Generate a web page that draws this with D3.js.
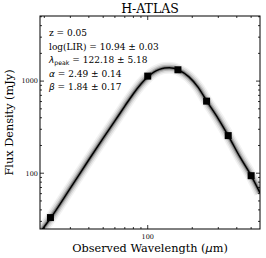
<!DOCTYPE html>
<html lang="en">
<head>
<meta charset="UTF-8">
<title>H-ATLAS SED</title>
<style>
	body { margin: 0; background: #fff; }
	text { font-family: 'DejaVu Serif', serif; fill: #000; }
	.math { font-family: 'DejaVu Sans', sans-serif; font-style: italic; }
</style>
</head>
<body>
<script src="https://d3js.org/d3.v7.min.js"></script>
<script>
	// size of the picture
	let width = 266;
	let height = 258;
	let padding = { top: 16, right: 6, bottom: 29, left: 40 };

	// photometry (observed wavelength in um, flux in mJy)
	let wavelengths = [22, 100, 160, 250, 350, 500];
	let fluxes = [33, 1133, 1327, 606, 256, 94];
	let fluxErrors = [2, 70, 60, 30, 13, 7];

	// best fit curve
	let curveWave = [19, 22, 30, 40, 50, 60, 70, 80, 90, 100, 110, 120, 130, 140, 150, 160, 190, 220, 250, 300, 350, 420, 500, 574];
	let curveFlux = [23.5, 32.4, 69, 140, 240, 370, 535, 730, 930, 1110, 1250, 1340, 1390, 1400, 1380, 1330, 1110, 850, 610, 390, 256, 150, 94, 61];

	// tick labels
	let xTickLabels = [100];
	let yTickLabels = [100, 1000];

	let fitText = [
		['z = 0.05'],
		['log(LIR) = 10.94 ± 0.03'],
		['λpeak', ' = 122.18 ± 5.18'],
		['α', ' = 2.49 ± 0.14'],
		['β', ' = 1.84 ± 0.17']
	];

	let innerW = width - padding.left - padding.right;
	let innerH = height - padding.top - padding.bottom;

	let xScale = d3.scaleLog()
			.domain([18.7, 574])
			.range([0, innerW]);
	let yScale = d3.scaleLog()
			.domain([24.8, 5090])
			.range([innerH, 0]);

	let svg = d3.select('body')
			.append('svg')
			.attr('width', width)
			.attr('height', height);

	let g = svg.append('g')
			.attr('transform', 'translate(' + padding.left + ',' + padding.top + ')');

	let clip = svg.append('defs').append('clipPath').attr('id', 'plotclip');
	clip.append('rect').attr('width', innerW).attr('height', innerH);

	let curve = curveWave.map(function(w, i){ return [w, curveFlux[i]]; });
	let linePath = d3.line()
			.x(function(d){ return xScale(d[0]); })
			.y(function(d){ return yScale(d[1]); })
			.curve(d3.curveMonotoneX);

	// grey band of the sampled fits
	let band = g.append('g').attr('clip-path', 'url(#plotclip)');
	[[12, 0.05], [9, 0.09], [6, 0.16], [3.5, 0.3]].forEach(function(s){
		band.append('path')
				.attr('d', linePath(curve))
				.attr('fill', 'none')
				.attr('stroke', '#000')
				.attr('stroke-opacity', s[1])
				.attr('stroke-width', s[0])
				.attr('stroke-linejoin', 'round');
	});
	band.append('path')
			.attr('d', linePath(curve))
			.attr('fill', 'none')
			.attr('stroke', '#000')
			.attr('stroke-width', 1.5);

	// error bars and points
	let pts = wavelengths.map(function(w, i){ return [w, fluxes[i], fluxErrors[i]]; });
	g.selectAll('.err')
			.data(pts)
			.enter()
			.append('line')
			.attr('x1', function(d){ return xScale(d[0]); })
			.attr('x2', function(d){ return xScale(d[0]); })
			.attr('y1', function(d){ return yScale(d[1] - d[2]); })
			.attr('y2', function(d){ return yScale(d[1] + d[2]); })
			.attr('stroke', '#000')
			.attr('stroke-width', 1.5);
	g.selectAll('.pt')
			.data(pts)
			.enter()
			.append('rect')
			.attr('x', function(d){ return xScale(d[0]) - 3.5; })
			.attr('y', function(d){ return yScale(d[1]) - 3.5; })
			.attr('width', 7)
			.attr('height', 7)
			.attr('fill', '#000');

	// ticks on all four sides, pointing in
	let xMajor = [100];
	let xMinor = [20, 30, 40, 50, 60, 70, 80, 90, 200, 300, 400, 500];
	let yMajor = [100, 1000];
	let yMinor = [30, 40, 50, 60, 70, 80, 90, 200, 300, 400, 500, 600, 700, 800, 900, 2000, 3000, 4000, 5000];
	function drawTicks(vals, len) {
		vals.forEach(function(v){
			let x = xScale(v);
			if (x < 0 || x > innerW) return;
			g.append('line').attr('x1', x).attr('x2', x).attr('y1', innerH).attr('y2', innerH - len).attr('stroke', '#000').attr('stroke-width', 0.8);
			g.append('line').attr('x1', x).attr('x2', x).attr('y1', 0).attr('y2', len).attr('stroke', '#000').attr('stroke-width', 0.8);
		});
	}
	function drawYTicks(vals, len) {
		vals.forEach(function(v){
			let y = yScale(v);
			if (y < 0 || y > innerH) return;
			g.append('line').attr('x1', 0).attr('x2', len).attr('y1', y).attr('y2', y).attr('stroke', '#000').attr('stroke-width', 0.8);
			g.append('line').attr('x1', innerW).attr('x2', innerW - len).attr('y1', y).attr('y2', y).attr('stroke', '#000').attr('stroke-width', 0.8);
		});
	}
	drawTicks(xMajor, 4);
	drawTicks(xMinor, 2);
	drawYTicks(yMajor, 4);
	drawYTicks(yMinor, 2);

	g.append('rect')
			.attr('width', innerW)
			.attr('height', innerH)
			.attr('fill', 'none')
			.attr('stroke', '#000')
			.attr('stroke-width', 1);

	g.selectAll('.xl')
			.data(xTickLabels)
			.enter()
			.append('text')
			.attr('x', function(d){ return xScale(d); })
			.attr('y', innerH + 10)
			.attr('text-anchor', 'middle')
			.attr('font-size', '6.5px')
			.text(function(d){ return d; });

	g.selectAll('.yl')
			.data(yTickLabels)
			.enter()
			.append('text')
			.attr('x', -2)
			.attr('y', function(d){ return yScale(d) + 2.3; })
			.attr('text-anchor', 'end')
			.attr('font-size', '6.5px')
			.text(function(d){ return d; });

	// fit parameters
	fitText.forEach(function(line, i){
		let t = g.append('text')
				.attr('x', 9)
				.attr('y', 20 + i * 13.5)
				.attr('font-size', '9px');
		if (line.length === 1) {
			t.text(line[0]);
			return;
		}
		let sym = line[0];
		if (sym.indexOf('peak') > 0) {
			t.append('tspan').attr('class', 'math').text('λ');
			t.append('tspan').attr('font-family', 'DejaVu Sans, sans-serif').attr('font-size', '6.2px').attr('dy', 1.8).text('peak');
			t.append('tspan').attr('dy', -1.8).text(line[1]);
		} else {
			t.append('tspan').attr('class', 'math').text(sym);
			t.append('tspan').text(line[1]);
		}
	});

	// titles
	svg.append('text')
			.attr('x', padding.left + innerW / 2)
			.attr('y', 13)
			.attr('text-anchor', 'middle')
			.attr('font-size', '12.5px')
			.text('H-ATLAS');

	let xl = svg.append('text')
			.attr('x', padding.left + innerW / 2)
			.attr('y', 252)
			.attr('text-anchor', 'middle')
			.attr('font-size', '11.3px');
	xl.append('tspan').text('Observed Wavelength (');
	xl.append('tspan').attr('class', 'math').text('μ');
	xl.append('tspan').text('m)');

	svg.append('text')
			.attr('transform', 'translate(13,' + (padding.top + innerH / 2) + ') rotate(-90)')
			.attr('text-anchor', 'middle')
			.attr('font-size', '11.3px')
			.text('Flux Density (mJy)');
</script>
</body>
</html>
